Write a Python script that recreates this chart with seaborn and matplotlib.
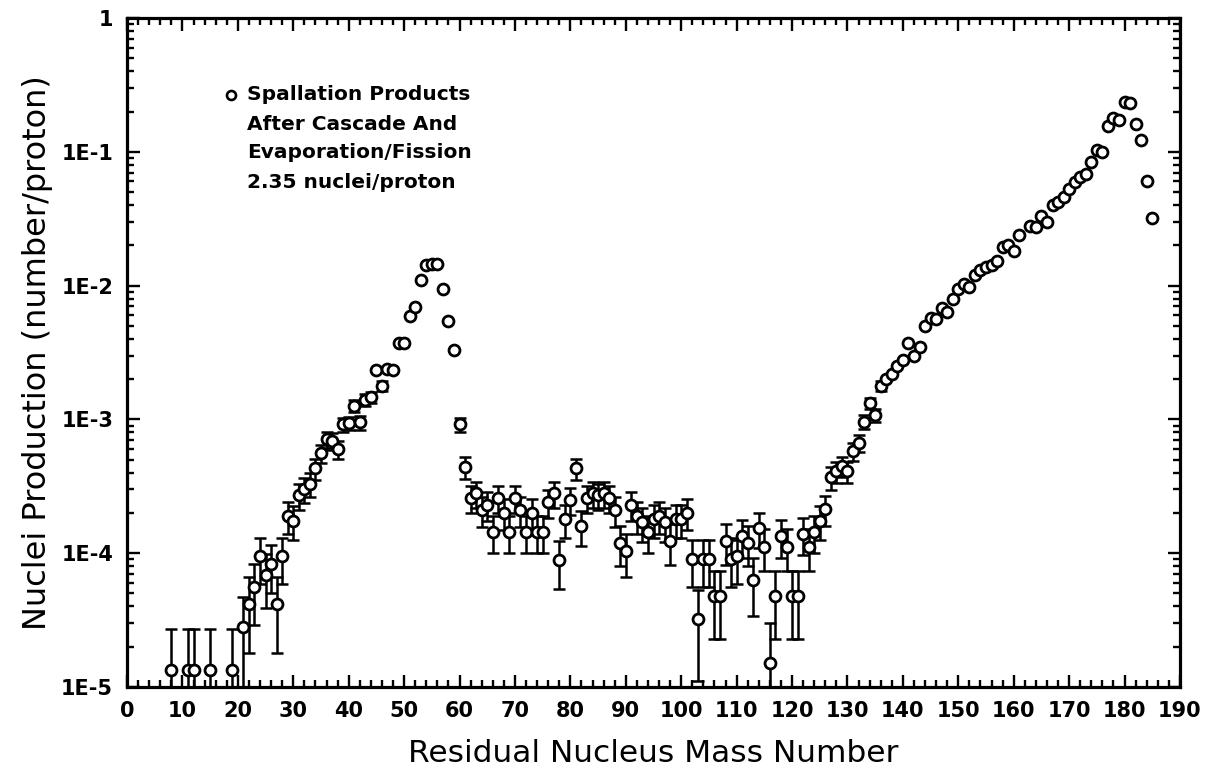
import numpy as np
import pandas as pd
import matplotlib
matplotlib.use("Agg")
import matplotlib.pyplot as plt
import matplotlib.ticker as mticker
import seaborn as sns

# ---------------- data ----------------
mass = [8, 11, 12, 15, 19,
        21, 22, 23, 24, 25, 26, 27, 28, 29, 30,
        31, 32, 33, 34, 35, 36, 37, 38, 39, 40,
        41, 42, 43, 44, 45, 46, 47, 48, 49, 50,
        51, 52, 53, 54, 55, 56, 57, 58, 59, 60,
        61, 62, 63, 64, 65, 66, 67, 68, 69, 70,
        71, 72, 73, 74, 75, 76, 77, 78, 79, 80,
        81, 82, 83, 84, 85, 86, 87, 88, 89, 90,
        91, 92, 93, 94, 95, 96, 97, 98, 99, 100,
        101, 102, 103, 104, 105, 106, 107, 108, 109, 110,
        111, 112, 113, 114, 115, 116, 117, 118, 119, 120,
        121, 122, 123, 124, 125, 126, 127, 128, 129, 130,
        131, 132, 133, 134, 135, 136, 137, 138, 139, 140,
        141, 142, 143, 144, 145, 146, 147, 148, 149, 150,
        151, 152, 153, 154, 155, 156, 157, 158, 159, 160,
        161, 163, 164, 165, 166, 167, 168, 169, 170,
        171, 172, 173, 174, 175, 176, 177, 178, 179, 180,
        181, 182, 183, 184, 185]

production = [1.35e-5, 1.35e-5, 1.35e-5, 1.35e-5, 1.35e-5,
              2.8e-5, 4.2e-5, 5.6e-5, 9.5e-5, 6.9e-5, 8.3e-5, 4.2e-5, 9.5e-5, 1.9e-4, 1.75e-4,
              2.7e-4, 3.0e-4, 3.3e-4, 4.3e-4, 5.6e-4, 7.1e-4, 6.9e-4, 6.0e-4, 9.2e-4, 9.4e-4,
              1.27e-3, 9.5e-4, 1.4e-3, 1.47e-3, 2.35e-3, 1.77e-3, 2.4e-3, 2.35e-3, 3.7e-3, 3.75e-3,
              5.9e-3, 6.9e-3, 1.1e-2, 1.42e-2, 1.45e-2, 1.45e-2, 9.5e-3, 5.4e-3, 3.3e-3, 9.2e-4,
              4.4e-4, 2.6e-4, 2.8e-4, 2.1e-4, 2.3e-4, 1.45e-4, 2.6e-4, 2.0e-4, 1.45e-4, 2.6e-4,
              2.1e-4, 1.45e-4, 2.0e-4, 1.45e-4, 1.45e-4, 2.4e-4, 2.8e-4, 8.9e-5, 1.8e-4, 2.5e-4,
              4.3e-4, 1.6e-4, 2.6e-4, 2.8e-4, 2.7e-4, 2.8e-4, 2.6e-4, 2.1e-4, 1.2e-4, 1.03e-4,
              2.3e-4, 1.9e-4, 1.7e-4, 1.45e-4, 1.8e-4, 1.9e-4, 1.7e-4, 1.23e-4, 1.8e-4, 1.8e-4,
              2.0e-4, 9.1e-5, 3.2e-5, 9.1e-5, 9.1e-5, 4.8e-5, 4.8e-5, 1.23e-4, 9.1e-5, 9.5e-5,
              1.35e-4, 1.2e-4, 6.3e-5, 1.55e-4, 1.12e-4, 1.5e-5, 4.8e-5, 1.35e-4, 1.12e-4, 4.8e-5,
              4.8e-5, 1.4e-4, 1.12e-4, 1.45e-4, 1.75e-4, 2.15e-4, 3.7e-4, 4.1e-4, 4.5e-4, 4.1e-4,
              5.8e-4, 6.7e-4, 9.6e-4, 1.32e-3, 1.07e-3, 1.78e-3, 2.0e-3, 2.2e-3, 2.5e-3, 2.8e-3,
              3.7e-3, 3.0e-3, 3.5e-3, 5.0e-3, 5.7e-3, 5.6e-3, 6.8e-3, 6.4e-3, 7.9e-3, 9.5e-3,
              1.03e-2, 9.7e-3, 1.2e-2, 1.31e-2, 1.38e-2, 1.43e-2, 1.54e-2, 1.94e-2, 2.0e-2, 1.8e-2,
              2.4e-2, 2.78e-2, 2.74e-2, 3.3e-2, 3.0e-2, 4.0e-2, 4.2e-2, 4.6e-2, 5.3e-2,
              5.9e-2, 6.5e-2, 6.8e-2, 8.4e-2, 0.104, 0.10, 0.156, 0.18, 0.173, 0.234,
              0.231, 0.162, 0.123, 0.06, 0.032]

error = [1.35e-5, 1.35e-5, 1.35e-5, 1.35e-5, 1.35e-5,
         1.9e-5, 2.4e-5, 2.7e-5, 3.6e-5, 3.0e-5, 3.3e-5, 2.4e-5, 3.6e-5, 5.1e-5, 4.9e-5,
         6.0e-5, 6.4e-5, 6.7e-5, 7.6e-5, 8.7e-5, 9.8e-5, 9.7e-5, 9.0e-5, 1.1e-4, 1.1e-4,
         1.3e-4, 1.1e-4, 1.4e-4, 1.4e-4, 0, 1.5e-4, 0, 0, 0, 0,
         0, 0, 0, 0, 0, 0, 0, 0, 0, 1.1e-4,
         8.0e-5, 5.9e-5, 6.1e-5, 5.3e-5, 5.6e-5, 4.4e-5, 5.9e-5, 5.2e-5, 4.4e-5, 5.9e-5,
         5.3e-5, 4.4e-5, 5.2e-5, 4.4e-5, 4.4e-5, 5.7e-5, 6.1e-5, 3.5e-5, 4.9e-5, 5.8e-5,
         7.6e-5, 4.6e-5, 5.9e-5, 6.1e-5, 6.0e-5, 6.1e-5, 5.9e-5, 5.3e-5, 4.0e-5, 3.7e-5,
         5.6e-5, 5.1e-5, 4.8e-5, 4.4e-5, 4.9e-5, 5.1e-5, 4.8e-5, 4.1e-5, 4.9e-5, 4.9e-5,
         5.2e-5, 3.5e-5, 2.1e-5, 3.5e-5, 3.5e-5, 2.5e-5, 2.5e-5, 4.1e-5, 3.5e-5, 3.6e-5,
         4.3e-5, 4.0e-5, 2.9e-5, 4.6e-5, 3.9e-5, 1.5e-5, 2.5e-5, 4.3e-5, 3.9e-5, 2.5e-5,
         2.5e-5, 4.3e-5, 3.9e-5, 4.4e-5, 4.9e-5, 5.4e-5, 7.1e-5, 7.4e-5, 7.8e-5, 7.4e-5,
         8.8e-5, 9.5e-5, 1.1e-4, 1.3e-4, 1.2e-4, 1.5e-4, 0, 0, 0, 0,
         0, 0, 0, 0, 0, 0, 0, 0, 0, 0,
         0, 0, 0, 0, 0, 0, 0, 0, 0, 0,
         0, 0, 0, 0, 0, 0, 0, 0, 0,
         0, 0, 0, 0, 0, 0, 0, 0, 0, 0,
         0, 0, 0, 0, 0]

ytick_values = [1e-5, 1e-4, 1e-3, 1e-2, 1e-1, 1]
ytick_labels = ["1E-5", "1E-4", "1E-3", "1E-2", "1E-1", "1"]
xtick_values = list(range(0, 191, 10))

legend_lines = ["Spallation Products", "After Cascade And",
                "Evaporation/Fission", "2.35 nuclei/proton"]
xlabel = "Residual Nucleus Mass Number"
ylabel = "Nuclei Production (number/proton)"

# ---------------- figure ----------------
sns.set_theme(style="ticks")
plt.rcParams["font.family"] = ["DejaVu Sans"]

df = pd.DataFrame({"mass": mass, "production": production, "error": error})

W, H = 1212, 778
fig = plt.figure(figsize=(W / 100, H / 100), dpi=100)
fig.patch.set_facecolor("white")
ax = fig.add_axes([127 / W, 1 - 687 / H, (1180 - 127) / W, (687 - 18) / H])
ax.set_facecolor("white")

ax.set_yscale("log", nonpositive="clip")
ax.set_xlim(0, 190)
ax.set_ylim(1e-5, 1)

eb = df[df["error"] > 0]
ax.errorbar(eb["mass"], eb["production"], yerr=eb["error"], fmt="none",
            ecolor="black", elinewidth=1.8, capsize=4.5, capthick=1.8, zorder=2)

sns.scatterplot(data=df, x="mass", y="production", ax=ax, marker="o",
                s=62, facecolor="white", edgecolor="black", linewidth=2.0,
                zorder=3, legend=False)

# ticks
ax.set_xticks(xtick_values)
ax.set_xticklabels([str(v) for v in xtick_values])
ax.xaxis.set_minor_locator(mticker.MultipleLocator(2))
ax.set_yticks(ytick_values)
ax.set_yticklabels(ytick_labels)
ax.yaxis.set_minor_locator(mticker.LogLocator(base=10, subs=np.arange(2, 10)))
ax.yaxis.set_minor_formatter(mticker.NullFormatter())

ax.tick_params(which="both", direction="in", top=True, right=True,
               color="black", width=1.7)
ax.tick_params(which="major", length=9, labelsize=15)
ax.tick_params(which="minor", length=5)
ax.tick_params(axis="x", which="major", pad=10)
ax.tick_params(axis="y", which="major", pad=10)
for lab in ax.get_xticklabels() + ax.get_yticklabels():
    lab.set_fontweight("bold")
    lab.set_color("black")

for sp in ax.spines.values():
    sp.set_visible(True)
    sp.set_linewidth(2.3)
    sp.set_color("black")

ax.set_xlabel(xlabel, fontsize=22.5, labelpad=13, color="black")
ax.set_ylabel(ylabel, fontsize=23, labelpad=6, color="black")

# in-plot legend text
line_y = [95, 125, 153, 182]
ax.plot([231 / W], [1 - 95 / H], marker="o", ms=6.5, mfc="white", mec="black",
        mew=1.9, transform=fig.transFigure, clip_on=False)
for txt, yy in zip(legend_lines, line_y):
    fig.text(247 / W, 1 - yy / H, txt, fontsize=14.5, fontweight="bold",
             va="center", ha="left", color="black")

fig.savefig("out.png", dpi=100, facecolor="white")
